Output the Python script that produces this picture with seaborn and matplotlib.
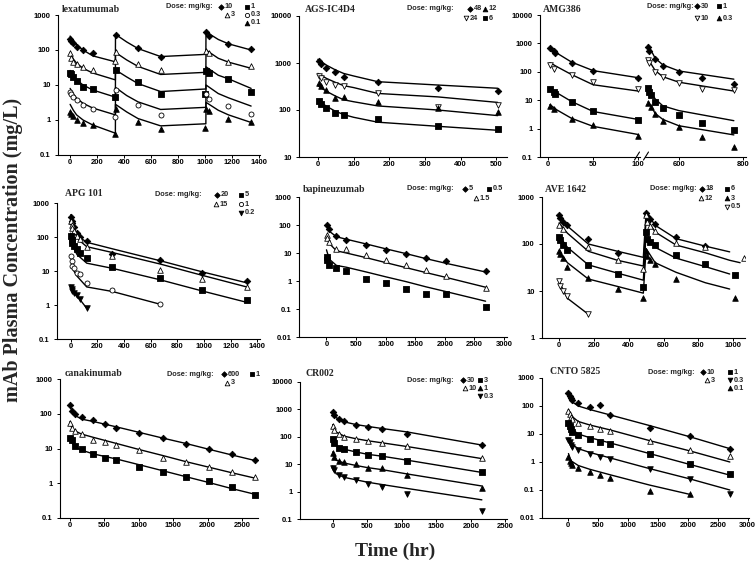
import numpy as np
import pandas as pd
import matplotlib
matplotlib.use("Agg")
import matplotlib.pyplot as plt
from matplotlib.ticker import FixedLocator, NullLocator
import seaborn as sns

nan = np.nan

# ---------------- lexatumumab ----------------
lexa_t = [2, 8, 24, 48, 96, 168, 334, 338, 504, 672, 1000, 1010, 1030, 1176, 1344]
lexa_10 = [200, 180, 160, 120, 100, 80, nan, 270, 115, 65, nan, 320, 250, 150, 110]
lexa_3 = [80, 60, 45, 40, 32, 27, 50, 90, 40, 27, nan, 95, 80, 45, 35]
lexa_1 = [22, 20, 17, 13, 9, 7.5, 4.5, 26, 12, 5.5, 5.5, 25, 22, 15, 6.5]
lexa_03 = [6.5, 5.5, 4.5, 3.8, 2.6, 2.1, 1.2, 7, 2.6, 1.4, nan, 5.5, 4, 2.5, 1.5]
lexa_01 = [1.7, 1.5, 1.3, 1.0, 0.8, 0.7, 0.4, 2.0, 0.85, 0.55, 0.6, 2.0, 1.8, 1.1, 0.85]
lexa_lt = [0, 24, 48, 96, 168, 336, 337, 420, 504, 672, 1008, 1009, 1100, 1176, 1344]
lexa_l10 = [250, 180, 140, 100, 68, 46, 280, 170, 110, 65, 75, 330, 200, 150, 100]
lexa_l3 = [85, 55, 42, 30, 22, 14, 85, 52, 34, 20, 23, 100, 58, 45, 30]
lexa_l1 = [26, 18, 14, 10, 7.2, 4.5, 27, 17, 11, 6.5, 7.7, 33, 19, 15, 8]
lexa_l03 = [8, 5.5, 4.2, 3.0, 2.2, 1.4, 8.5, 5, 3.3, 2.0, 2.3, 10, 5.7, 4.3, 2.5]
lexa_l01 = [2.8, 1.9, 1.4, 1.0, 0.72, 0.42, 2.8, 1.7, 1.1, 0.68, 0.78, 3.2, 1.9, 1.4, 0.85]

# ---------------- AGS-IC4D4 ----------------
ags_t = [2, 8, 24, 48, 72, 168, 336, 504]
ags_48 = [1100, 950, 780, 640, 510, 390, 290, 250]
ags_24 = [520, 480, 400, 340, 320, 225, 115, 125]
ags_12 = [380, 330, 270, 180, 185, 150, 110, 90]
ags_6 = [155, 135, 110, 88, 78, 65, 45, 40]
ags_lt = [0, 24, 48, 72, 100, 168, 336, 504]
ags_l48 = [1200, 900, 720, 600, 530, 400, 340, 290]
ags_l24 = [600, 470, 390, 330, 300, 225, 190, 145]
ags_l12 = [330, 250, 200, 165, 150, 122, 100, 76]
ags_l6 = [160, 120, 95, 80, 70, 55, 45, 37]

# ---------------- AMG386 (broken axis) ----------------
amg_t1 = [2, 6, 8, 26, 50, 100]
amg1_30 = [700, 560, 450, 210, 105, 62]
amg1_10 = [175, 130, nan, 76, 44, 24]
amg1_1 = [25, 20, 17, 8.5, 4.2, 2.0]
amg1_03 = [6.5, 5, nan, 2.2, 1.3, 0.55]
amg_lt1 = [2, 10, 26, 50, 100]
amg_l1_30 = [650, 450, 220, 110, 62]
amg_l1_10 = [210, 150, 80, 35, 21]
amg_l1_1 = [26, 18, 9, 4.0, 2.1]
amg_l1_03 = [7, 4.5, 2.3, 1.2, 0.62]
amg_t2 = [504, 508, 512, 526, 550, 600, 672, 772]
amg2_30 = [770, 550, nan, 275, 160, 100, 62, 36]
amg2_10 = [260, 200, nan, 100, 64, 41, 24, 23]
amg2_1 = [26, 20, 15, 8.9, 5.2, 3.0, 1.6, 0.9]
amg2_03 = [7.7, nan, 5.8, 3.2, 1.8, 1.1, 0.52, 0.23]
amg_lt2 = [504, 526, 550, 600, 772]
amg_l2_30 = [870, 300, 175, 107, 55]
amg_l2_10 = [275, 110, 67, 43, 21]
amg_l2_1 = [28, 11, 6.3, 4.3, 1.9]
amg_l2_03 = [9, 3.4, 2.1, 1.26, 0.6]

# ---------------- APG 101 ----------------
apg_t = [2, 6, 12, 24, 48, 72, 120, 312, 672, 984, 1320]
apg_20 = [400, 300, 250, 200, 130, 100, 75, 32, 21, 9, 5]
apg_15 = [300, 230, 180, 150, 110, 85, 50, 28, 11, 6, 3.3]
apg_5 = [110, 80, 65, 55, 45, 33, 24, 13, 6.2, 2.7, 1.4]
apg_1 = [28, 20, 14, 12, 9, 8, 4.3, 2.8, 1.05, nan, nan]
apg_02 = [3.5, 3, 2.5, 2.2, 2.0, 1.5, 0.8, nan, nan, nan, nan]
apg_lt = [0, 12, 24, 48, 72, 120, 312, 672, 984, 1320]
apg_l20 = [450, 250, 190, 120, 95, 70, 45, 20, 9.5, 4.5]
apg_l15 = [350, 200, 150, 100, 75, 52, 35, 16, 7.5, 3.4]
apg_l5 = [130, 60, 45, 30, 25, 17, 12, 5.5, 2.6, 1.2]
apg_l1 = [30, 14, 10, 7, 5.5, 3.4, 2.5, 1.05, nan, nan]
apg_l02 = [3.8, 2.8, 2.3, 1.7, 1.4, 0.8, nan, nan, nan, nan]

# ---------------- bapineuzumab ----------------
bapi_t = [2, 10, 48, 168, 336, 672, 1008, 1344, 1680, 2016, 2688]
bapi_5 = [100, nan, 70, 40, 30, 19, 12.5, 9, 6.5, 5, 2.3]
bapi_15 = [45, 35, 24, 14, 13.5, 8.5, 5.5, 3.7, 2.5, 1.5, 0.58]
bapi_05 = [7, 5.5, 3.8, 2.8, 2.3, 1.2, 0.82, 0.52, 0.35, 0.34, 0.12]
bapi_lt = [0, 48, 168, 336, 672, 1008, 1344, 1680, 2016, 2688]
bapi_l5 = [100, 60, 38, 31, 21, 14, 9.5, 6.3, 4.3, 2.1]
bapi_l15 = [40, 22, 12, 10, 6.8, 4.5, 3.0, 2.0, 1.35, 0.6]
bapi_l05 = [13, 6, 3.6, 3.1, 2.1, 1.4, 0.95, 0.62, 0.42, 0.19]

# ---------------- AVE 1642 ----------------
ave_t = [2, 8, 24, 48, 168, 336, 484, 500, 506, 520, 552, 672, 840, 1008, 1060]
ave_18 = [420, 350, 300, 250, 125, 65, nan, 450, 400, 340, 270, 140, 90, nan, nan]
ave_12 = [250, nan, 210, nan, 88, 45, 30, 420, 300, 240, 190, 105, 85, nan, 50]
ave_6 = [140, 120, 95, 75, 35, 23, 12, 180, 130, 110, 95, 58, 37, 22, nan]
ave_3 = [70, 60, 50, 33, 19, 11, 7, 72, 55, 45, 38, 18, nan, 7, nan]
ave_05 = [16, 13, 10, 8, 3.2, nan, nan, nan, nan, nan, nan, nan, nan, nan, nan]
ave_lt = [0, 48, 168, 336, 484, 500, 552, 672, 840, 980, 1040]
ave_l18 = [380, 240, 100, 70, 52, 480, 250, 130, 90, 68, nan]
ave_l12 = [280, 170, 70, 45, 34, 350, 180, 95, 65, 45, 40]
ave_l6 = [150, 85, 36, 24, 17, 170, 85, 50, 33, 23, nan]
ave_l3 = [70, 40, 18, 12.5, 9, 80, 40, 25, 15, 11, nan]
ave_l05 = [16, 7, 3.2, nan, nan, nan, nan, nan, nan, nan, nan]

# ---------------- canakinumab ----------------
cana_t = [2, 24, 72, 168, 336, 504, 672, 1008, 1344, 1680, 2016, 2352, 2688]
cana_600 = [180, 120, 100, 80, 65, 52, 40, 28, 20, 13.5, 9.5, 6.8, 4.8]
cana_3 = [55, 40, 32, 27, 18, 15, 13, 9, 5.5, 4.0, 3.0, 2.1, 1.5]
cana_1 = [20, 17, 12, 9.5, 7, 5.5, 4.8, 3.0, 2.1, 1.5, 1.15, 0.8, 0.45]
cana_lt = [0, 24, 72, 168, 336, 672, 1008, 1344, 1680, 2016, 2352, 2688]
cana_l600 = [190, 120, 90, 70, 60, 42, 29, 20, 14, 9.5, 6.5, 4.5]
cana_l3 = [60, 40, 32, 26, 21, 14, 9.3, 6.3, 4.2, 2.9, 2.0, 1.4]
cana_l1 = [22, 15, 11, 9, 7, 5, 3.4, 2.3, 1.55, 1.05, 0.7, 0.48]

# ---------------- CR002 ----------------
cr_t = [2, 24, 96, 168, 336, 504, 720, 1080, 2160]
cr_30 = [800, 650, 450, 380, 280, 230, 190, 130, 50]
cr_10 = [250, 180, 130, 100, 85, 70, 60, 45, 17]
cr_3 = [80, 60, 40, 35, 28, 22, 20, 13.5, 5]
cr_1 = [25, 18, 13, 12, 10, 7.5, 7, 4.2, 1.4]
cr_03 = [7.5, 6, 4, 3.5, 2.6, 1.9, 1.5, 0.8, 0.19]
cr_lt = [0, 48, 168, 336, 504, 720, 1080, 2160]
cr_l30 = [850, 500, 350, 280, 240, 200, 150, 50]
cr_l10 = [280, 150, 105, 85, 72, 60, 44, 16]
cr_l3 = [85, 48, 35, 28, 23, 19.5, 14, 5]
cr_l1 = [28, 14, 11, 9, 7.5, 6.3, 4.4, 1.6]
cr_l03 = [8.5, 4.5, 3.3, 2.7, 2.2, 1.8, 1.3, 0.5]

# ---------------- CNTO 5825 ----------------
cnto_t = [5, 24, 48, 72, 168, 360, 530, 700, 1360, 2030, 2700]
cnto_10 = [300, 220, 190, 170, 130, 90, 105, 48, 17, 8.5, 3]
cnto_3 = [65, 50, 40, 35, 25, 20, 15, 13, 5.5, 2.6, 1.6]
cnto_1 = [25, 20, 15, 12, 9, 6.5, 5, 4.3, 2.0, 0.85, 0.36]
cnto_03 = [6, 5, 4, 3.5, 2.6, 2.0, 1.5, 1.3, 0.55, 0.25, 0.07]
cnto_01 = [1.5, 1.1, 0.9, 0.8, 0.6, 0.45, 0.33, 0.26, 0.09, 0.07, nan]
cnto_lt = [5, 48, 168, 360, 700, 1360, 2030, 2700]
cnto_l10 = [250, 150, 100, 75, 48, 20, 8, 3]
cnto_l3 = [75, 45, 28, 21, 14, 5.8, 2.5, 1.0]
cnto_l1 = [28, 16, 10, 7.4, 4.8, 2.0, 0.82, 0.34]
cnto_l03 = [7, 4.5, 3.0, 2.2, 1.4, 0.58, 0.25, 0.1]
cnto_l01 = [2, 1.1, 0.75, 0.55, 0.35, 0.15, 0.07, nan]

# ---------------- style ----------------
sns.set_theme(style="white")
plt.rcParams["font.family"] = ["Liberation Sans", "DejaVu Sans"]
plt.rcParams["axes.linewidth"] = 0.8

W, H = 756, 566
fig = plt.figure(figsize=(W / 100, H / 100), dpi=100)

MK = {
    "dia": ("D", "black", 11),
    "sq": ("s", "black", 14),
    "tri": ("^", "white", 16),
    "ftri": ("^", "black", 16),
    "circ": ("o", "white", 13),
    "itri": ("v", "white", 16),
    "fitri": ("v", "black", 16),
}

SERIF = ["Liberation Serif", "DejaVu Serif"]


def add_ax(x0, x1, ytop, ybot):
    return fig.add_axes([x0 / W, 1 - ybot / H, (x1 - x0) / W, (ybot - ytop) / H])


def draw_points(ax, t, c, style):
    df = pd.DataFrame({"t": t, "c": c}).dropna()
    m, fc, s = MK[style]
    sns.scatterplot(data=df, x="t", y="c", ax=ax, marker=m, s=s, color=fc,
                    edgecolor="black", linewidth=0.6, zorder=3, legend=False)


def draw_line(ax, t, c):
    df = pd.DataFrame({"t": t, "c": c}).dropna()
    sns.lineplot(data=df, x="t", y="c", ax=ax, color="black", linewidth=1.0,
                 estimator=None, sort=False, zorder=2, legend=False)


def style_ax(ax, xlim, xticks, ylim, yticks, ylabels, left=True):
    ax.set_yscale("log")
    ax.set_xlim(*xlim)
    ax.set_ylim(*ylim)
    ax.set_xticks(list(xticks), [str(v) for v in xticks])
    ax.yaxis.set_major_locator(FixedLocator(yticks))
    ax.yaxis.set_minor_locator(NullLocator())
    ax.set_yticklabels(ylabels)
    ax.set_xlabel("")
    ax.set_ylabel("")
    ax.grid(False)
    ax.patch.set_alpha(0)
    for s in ["top", "right"]:
        ax.spines[s].set_visible(False)
    for s in ["left", "bottom"]:
        ax.spines[s].set_color("black")
        ax.spines[s].set_linewidth(0.8)
    ax.tick_params(axis="both", which="major", direction="out", length=2.2,
                   width=0.7, labelsize=5.5, colors="black", bottom=True, left=left)
    ax.tick_params(axis="x", pad=1)
    ax.tick_params(axis="y", pad=3)
    for lab in ax.get_xticklabels() + ax.get_yticklabels():
        lab.set_fontweight("bold")
    if not left:
        ax.spines["left"].set_visible(False)
        ax.set_yticklabels([])


Y3 = ([0.1, 1, 10, 100, 1000], ["0.1", "1", "10", "100", "1000"])
Y4 = ([0.1, 1, 10, 100, 1000, 10000], ["0.1", "1", "10", "100", "1000", "10000"])
Y2 = ([10, 100, 1000, 10000], ["10", "100", "1000", "10000"])
Y5 = ([0.01, 0.1, 1, 10, 100, 1000], ["0.01", "0.1", "1", "10", "100", "1000"])
Y1 = ([1, 10, 100, 1000], ["1", "10", "100", "1000"])

panels = [
    dict(box=(58, 260, 15, 155), xlim=(-90, 1410), xt=range(0, 1401, 200), ylim=(0.1, 1000), y=Y3,
         t=lexa_t, lt=lexa_lt,
         ser=[(lexa_10, lexa_l10, "dia"), (lexa_3, lexa_l3, "tri"), (lexa_1, lexa_l1, "sq"),
              (lexa_03, lexa_l03, "circ"), (lexa_01, lexa_l01, "ftri")]),
    dict(box=(299, 507, 16, 157), xlim=(-53, 530), xt=range(0, 501, 100), ylim=(10, 10000), y=Y2,
         t=ags_t, lt=ags_lt,
         ser=[(ags_48, ags_l48, "dia"), (ags_24, ags_l24, "itri"), (ags_12, ags_l12, "ftri"),
              (ags_6, ags_l6, "sq")]),
    dict(box=(57, 260, 203, 339), xlim=(-103, 1420), xt=range(0, 1401, 200), ylim=(0.1, 1000), y=Y3,
         t=apg_t, lt=apg_lt,
         ser=[(apg_20, apg_l20, "dia"), (apg_15, apg_l15, "tri"), (apg_5, apg_l5, "sq"),
              (apg_1, apg_l1, "circ"), (apg_02, apg_l02, "fitri")]),
    dict(box=(299, 507, 197, 337), xlim=(-464, 3050), xt=range(0, 3001, 500), ylim=(0.01, 1000), y=Y5,
         t=bapi_t, lt=bapi_lt,
         ser=[(bapi_5, bapi_l5, "dia"), (bapi_15, bapi_l15, "tri"), (bapi_05, bapi_l05, "sq")]),
    dict(box=(542, 745, 197, 338), xlim=(-98, 1068), xt=range(0, 1001, 200), ylim=(1, 1000), y=Y1,
         t=ave_t, lt=ave_lt,
         ser=[(ave_18, ave_l18, "dia"), (ave_12, ave_l12, "tri"), (ave_6, ave_l6, "sq"),
              (ave_3, ave_l3, "ftri"), (ave_05, ave_l05, "itri")]),
    dict(box=(60, 258, 379, 518), xlim=(-145, 2730), xt=range(0, 2501, 500), ylim=(0.1, 1000), y=Y3,
         t=cana_t, lt=cana_lt,
         ser=[(cana_600, cana_l600, "dia"), (cana_3, cana_l3, "tri"), (cana_1, cana_l1, "sq")]),
    dict(box=(300, 507, 382, 519), xlim=(-474, 2524), xt=range(0, 2501, 500), ylim=(0.1, 10000), y=Y4,
         t=cr_t, lt=cr_lt,
         ser=[(cr_30, cr_l30, "dia"), (cr_10, cr_l10, "tri"), (cr_3, cr_l3, "sq"),
              (cr_1, cr_l1, "ftri"), (cr_03, cr_l03, "fitri")]),
    dict(box=(542, 749, 378, 518), xlim=(-437, 3020), xt=range(0, 3001, 500), ylim=(0.01, 1000), y=Y5,
         t=cnto_t, lt=cnto_lt,
         ser=[(cnto_10, cnto_l10, "dia"), (cnto_3, cnto_l3, "tri"), (cnto_1, cnto_l1, "sq"),
              (cnto_03, cnto_l03, "fitri"), (cnto_01, cnto_l01, "ftri")]),
]

for p in panels:
    ax = add_ax(*p["box"])
    for pts, line, st in p["ser"]:
        draw_line(ax, p["lt"], line)
        draw_points(ax, p["t"], pts, st)
    style_ax(ax, p["xlim"], p["xt"], p["ylim"], p["y"][0], p["y"][1])

# AMG386 broken axis: two panels sharing the y scale
axL = add_ax(540, 640, 15, 157)
axR = add_ax(645, 746, 15, 157)
for pts, line, st in [(amg1_30, amg_l1_30, "dia"), (amg1_10, amg_l1_10, "itri"),
                      (amg1_1, amg_l1_1, "sq"), (amg1_03, amg_l1_03, "ftri")]:
    draw_line(axL, amg_lt1, line)
    draw_points(axL, amg_t1, pts, st)
for pts, line, st in [(amg2_30, amg_l2_30, "dia"), (amg2_10, amg_l2_10, "itri"),
                      (amg2_1, amg_l2_1, "sq"), (amg2_03, amg_l2_03, "ftri")]:
    draw_line(axR, amg_lt2, line)
    draw_points(axR, amg_t2, pts, st)
style_ax(axL, (-9, 102), [0, 50, 100], (0.1, 10000), Y4[0], Y4[1])
style_ax(axR, (494, 810), [600, 800], (0.1, 10000), Y4[0], Y4[1], left=False)
for a in (axL, axR):
    for c in a.collections:
        c.set_clip_on(False)

# ---------------- overlay for texts ----------------
ov = fig.add_axes([0, 0, 1, 1])
ov.set_xlim(0, W)
ov.set_ylim(H, 0)
ov.axis("off")
ov.patch.set_alpha(0)

# break marks
for bx in (637, 646):
    ov.plot([bx - 2.5, bx + 2.5], [160, 152], color="black", lw=0.8)

titles = [(62, 10, "lexatumumab"), (305, 10, "AGS-IC4D4"), (543, 10, "AMG386"),
          (65, 194, "APG 101"), (303, 190, "bapineuzumab"), (545, 190, "AVE 1642"),
          (65, 373, "canakinumab"), (305, 373, "CR002"), (550, 372, "CNTO 5825")]
for x, y, s in titles:
    ov.text(x, y, s, family=SERIF, fontweight="bold", fontsize=7, ha="left", va="center")

legends = [
    ((166, 7), [(221, 7, "dia", "10"), (247, 7, "sq", "1"), (227, 15, "tri", "3"),
                (247, 15, "circ", "0.3"), (247, 23, "ftri", "0.1")]),
    ((407, 9), [(470, 9, "dia", "48"), (485, 9, "ftri", "12"), (466, 18, "itri", "24"),
                (485, 18, "sq", "6")]),
    ((647, 6), [(697, 6, "dia", "30"), (719, 6, "sq", "1"), (697, 18, "itri", "10"),
                (719, 18, "ftri", "0.3")]),
    ((155, 195), [(217, 195, "dia", "20"), (241, 195, "sq", "5"), (216, 204, "tri", "15"),
                  (241, 204, "circ", "1"), (241, 213, "fitri", "0.2")]),
    ((407, 189), [(465, 189, "dia", "5"), (489, 189, "sq", "0.5"), (476, 198, "tri", "1.5")]),
    ((650, 189), [(702, 189, "dia", "18"), (727, 189, "sq", "6"), (701, 198, "tri", "12"),
                  (727, 198, "ftri", "3"), (727, 207, "itri", "0.5")]),
    ((167, 374), [(224, 374, "dia", "600"), (252, 374, "sq", "1"), (227, 383, "tri", "3")]),
    ((407, 380), [(463, 380, "dia", "30"), (480, 380, "sq", "3"), (465, 388, "tri", "10"),
                  (480, 388, "ftri", "1"), (480, 396, "fitri", "0.3")]),
    ((648, 372), [(703, 372, "dia", "10"), (730, 372, "sq", "1"), (707, 380, "tri", "3"),
                  (730, 380, "fitri", "0.3"), (730, 388, "ftri", "0.1")]),
]
for (hx, hy), items in legends:
    ov.text(hx, hy, "Dose: mg/kg:", fontsize=5.3, fontweight="bold", ha="left", va="center")
    for mx, my, st, lab in items:
        m, fc, s = MK[st]
        ov.scatter([mx], [my], marker=m, s=s * 0.7, c=fc, edgecolors="black", linewidths=0.6)
        ov.text(mx + 3.5, my, lab, fontsize=5.3, fontweight="bold", ha="left", va="center")

ov.text(13, 250, "mAb Plasma Concentration (mg/L)", family=SERIF, fontweight="bold",
        fontsize=14.5, rotation=90, ha="center", va="center")
ov.text(395, 551, "Time (hr)", family=SERIF, fontweight="bold", fontsize=14,
        ha="center", va="center")

fig.savefig("out.png", dpi=100)
